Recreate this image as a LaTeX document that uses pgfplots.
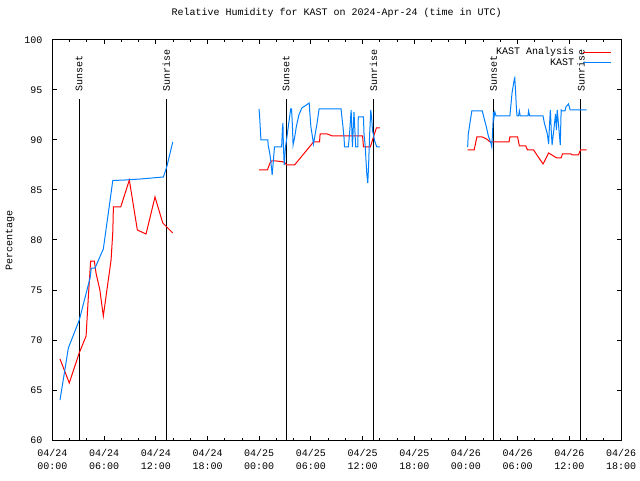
\documentclass[border=0pt]{standalone}
\usepackage{pgfplots}
\pgfplotsset{compat=1.18}
\usepackage{fontspec}
\setmainfont{Liberation Mono}
\definecolor{kred}{RGB}{255,0,0}
\definecolor{kblue}{RGB}{0,128,255}
\begin{document}
\begin{tikzpicture}[font=\fontsize{10}{12}\selectfont]
\path[use as bounding box] (0,0) rectangle (640pt,480pt);
\begin{axis}[
  at={(52.5pt,40pt)}, anchor=south west,
  scale only axis, width=568.5pt, height=400pt,
  xmin=0, xmax=66, ymin=60, ymax=100,
  xtick={0,6,...,66},
  minor xtick={2,4,8,10,14,16,20,22,26,28,32,34,38,40,44,46,50,52,56,58,62,64},
  xticklabels={{04/24\\00:00},{04/24\\06:00},{04/24\\12:00},{04/24\\18:00},{04/25\\00:00},{04/25\\06:00},{04/25\\12:00},{04/25\\18:00},{04/26\\00:00},{04/26\\06:00},{04/26\\12:00},{04/26\\18:00}},
  xticklabel style={align=center, inner sep=0pt, yshift=-9pt, font=\fontsize{10}{13}\selectfont},
  ytick={60,65,...,100},
  yticklabel style={inner sep=0pt, xshift=-10pt},
  /pgf/number format/assume math mode=true,
  major tick length=4pt, minor tick length=2pt,
  tick style={black, line width=1pt},
  axis line style={line width=1pt},
  title={Relative Humidity for KAST on 2024-Apr-24 (time in UTC)},
  title style={at={(0.5,1)}, anchor=center, yshift=21pt, inner sep=0pt},
  ylabel={Percentage},
  ylabel style={at={(axis description cs:-0.0748,0.5)}, anchor=center, inner sep=0pt},
  unbounded coords=jump,
  legend cell align=right,
  legend plot pos=right,
  legend image code/.code={\path (-7pt,0pt); \draw[#1] (0pt,0pt) -- (28pt,0pt);},
  legend style={at={(rel axis cs:0.984,0.985)}, anchor=north east, draw=none, fill=none,
    inner sep=0pt, row sep=-1pt, nodes={inner sep=1.5pt}},
]
% sunset / sunrise markers
\addplot[black, line width=1pt, forget plot] coordinates {(3.1,60) (3.1,94.1)};
\addplot[black, line width=1pt, forget plot] coordinates {(13.2,60) (13.2,94.1)};
\addplot[black, line width=1pt, forget plot] coordinates {(27.12,60) (27.12,94.1)};
\addplot[black, line width=1pt, forget plot] coordinates {(37.26,60) (37.26,94.1)};
\addplot[black, line width=1pt, forget plot] coordinates {(51.2,60) (51.2,94.1)};
\addplot[black, line width=1pt, forget plot] coordinates {(61.35,60) (61.35,94.1)};
\node[rotate=90, anchor=west, inner sep=0pt] at (axis cs:3.1,94.8) {Sunset};
\node[rotate=90, anchor=west, inner sep=0pt] at (axis cs:13.2,94.8) {Sunrise};
\node[rotate=90, anchor=west, inner sep=0pt] at (axis cs:27.12,94.8) {Sunset};
\node[rotate=90, anchor=west, inner sep=0pt] at (axis cs:37.26,94.8) {Sunrise};
\node[rotate=90, anchor=west, inner sep=0pt] at (axis cs:51.2,94.8) {Sunset};
\node[rotate=90, anchor=west, inner sep=0pt] at (axis cs:61.35,94.8) {Sunrise};
% KAST Analysis
\addplot[kred, line width=1pt] coordinates {
(0.87,68.1) (1.95,65.7) (3.1,68.7) (3.9,70.4) (4.16,74.3) (4.43,77.9) (4.86,77.9) (5.05,76.7) (5.5,75.0) (5.9,72.4) (6.8,78.0) (7.0,80.8) (7.07,83.3) (7.92,83.3) (8.92,86.0) (9.85,81.0) (10.86,80.6) (11.9,84.3) (12.8,81.7) (13.26,81.3) (13.96,80.7)
(18,nan)
(24.0,87.0) (24.95,87.0) (25.25,87.7) (25.45,87.9) (26.0,87.9) (26.9,87.8) (27.2,87.5) (28.1,87.5) (30.3,89.8) (31.0,89.8) (31.07,90.6) (31.9,90.6) (32.5,90.4) (36.0,90.4) (36.1,89.3) (36.9,89.3) (37.26,90.3) (37.6,91.2) (38.0,91.2)
(43,nan)
(48.2,89.0) (48.95,89.0) (49.27,90.3) (49.9,90.3) (50.4,90.1) (50.8,89.8) (53.0,89.8) (53.1,90.3) (54.0,90.3) (54.2,89.4) (54.95,89.4) (55.15,89.0) (55.85,89.0) (56.95,87.6) (57.6,88.7) (58.55,88.2) (59.05,88.2) (59.2,88.6) (60.2,88.6) (60.35,88.5) (61.05,88.5) (61.3,89.0) (62.0,89.0)
};
\addlegendentry{KAST Analysis}
% KAST
\addplot[kblue, line width=1pt] coordinates {
(0.87,64.0) (1.34,66.5) (1.84,69.2) (3.11,72.0) (4.36,76.2) (4.5,77.2) (4.94,77.2) (5.9,79.1) (6.48,82.7) (7.0,85.95) (8.4,86.0) (10.2,86.1) (12.87,86.3) (13.26,87.3) (13.96,89.8)
(18,nan)
(23.98,93.1) (24.05,92.3) (24.2,90.0) (25.0,90.0) (25.05,89.4) (25.2,88.8) (25.3,88.2) (25.45,87.0) (25.5,86.5) (25.6,87.5) (25.77,89.3) (26.6,89.3) (26.7,91.2) (26.75,91.7) (26.8,89.6) (26.9,87.5) (27.05,89.3) (27.2,90.2) (27.4,91.5) (27.65,93.1) (27.75,93.1) (27.85,91.5) (27.93,89.5) (28.1,90.2) (28.3,91.3) (28.6,92.5) (28.94,93.2) (29.3,93.4) (29.8,93.7) (29.85,93.0) (30.0,91.3) (30.2,90.2) (30.3,89.6) (30.5,90.6) (30.7,91.6) (30.95,93.1) (33.5,93.1) (33.7,91.5) (33.85,90.2) (33.9,89.3) (34.35,89.3) (34.5,90.8) (34.67,93.0) (34.82,89.3) (35.0,92.8) (35.2,89.3) (35.45,89.3) (35.5,92.3) (36.1,92.3) (36.17,90.5) (36.3,89.5) (36.4,87.9) (36.5,86.5) (36.6,85.7) (36.7,87.5) (36.8,90.2) (36.95,93.0) (37.05,92.2) (37.15,90.9) (37.25,90.6) (37.4,89.9) (37.65,89.3) (38.0,89.3)
(43,nan)
(48.2,89.3) (48.27,90.6) (48.5,91.9) (48.68,92.9) (49.9,92.9) (50.1,92.2) (50.4,91.2) (50.6,90.4) (50.9,89.7) (51.0,89.3) (51.1,91.0) (51.2,92.8) (51.27,92.3) (51.35,92.8) (51.5,92.4) (53.1,92.4) (53.2,93.3) (53.35,94.7) (53.6,96.0) (53.67,96.2) (53.75,95.0) (53.85,93.3) (53.93,92.4) (54.1,92.4) (54.2,92.9) (54.3,92.4) (55.2,92.4) (55.27,92.9) (55.4,92.4) (56.95,92.4) (57.1,91.7) (57.45,90.6) (57.6,89.6) (57.7,91.5) (57.8,93.0) (57.9,91.0) (58.0,89.5) (58.2,91.0) (58.4,92.6) (58.5,91.0) (58.6,93.0) (58.8,91.0) (58.95,89.5) (59.05,93.0) (59.2,92.9) (59.5,92.9) (59.6,93.3) (59.9,93.6) (60.1,93.0) (62.0,93.0)
};
\addlegendentry{KAST}
\end{axis}
\end{tikzpicture}
\end{document}
